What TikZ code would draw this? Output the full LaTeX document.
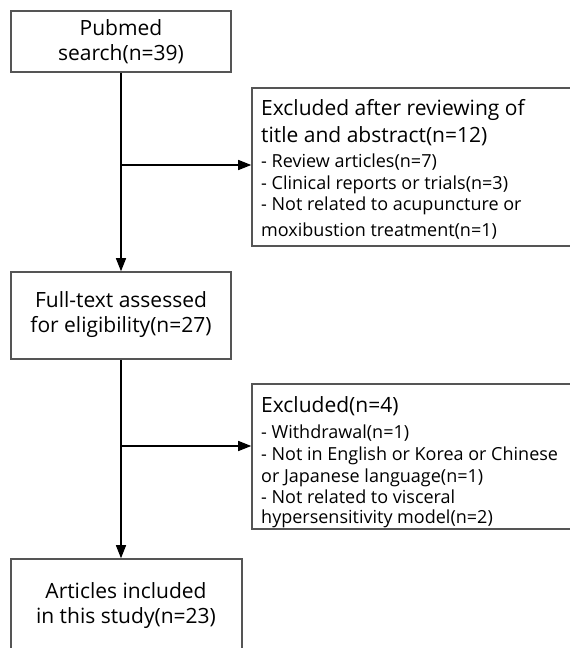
\documentclass[tikz,border=0pt]{standalone}
\usepackage{fontspec}
\setmainfont{Open Sans}
\usetikzlibrary{arrows.meta}
\definecolor{boxgray}{RGB}{85,85,85}
\begin{document}
\begin{tikzpicture}[x=1pt,y=-1pt,
  box/.style={draw=boxgray, line width=1.6pt, rectangle, inner sep=0pt},
  conn/.style={line width=1.3pt, -{Triangle[length=13pt,width=10pt]}},
  big/.style={font=\fontsize{21}{25}\selectfont, inner sep=0pt},
  small/.style={font=\fontsize{18}{20}\selectfont, inner sep=0pt, anchor=base west},
  title/.style={font=\fontsize{21}{25}\selectfont, inner sep=0pt, anchor=base west}]
\clip (0,0) rectangle (570,648);
\fill[white] (0,0) rectangle (570,648);
% boxes
\node[box, minimum width=220pt, minimum height=61pt] (b1) at (121,41.5) {};
\node[box, minimum width=328pt, minimum height=158pt] (b2) at (416,167) {};
\node[box, minimum width=220pt, minimum height=87pt] (b3) at (121,315.5) {};
\node[box, minimum width=328pt, minimum height=145pt] (b4) at (416,456.5) {};
\node[box, minimum width=231pt, minimum height=101pt] (b5) at (126.5,609.5) {};
% texts
\node[big, align=center] (t1) at (121,42) {Pubmed\\search(n=39)};
\node[big, align=center] (t3) at (121,315) {Full-text assessed\\for eligibility(n=27)};
\node[big, align=center] (t5) at (126,606) {Articles included\\in this study(n=23)};
\node[title] (t2a) at (261,115) {Excluded after reviewing of};
\node[title] (t2b) at (261,142) {title and abstract(n=12)};
\node[small] (t2c) at (261,167) {- Review articles(n=7)};
\node[small] (t2d) at (261,189) {- Clinical reports or trials(n=3)};
\node[small] (t2e) at (261,210) {- Not related to acupuncture or};
\node[small] (t2f) at (261,236) {moxibustion treatment(n=1)};
\node[title] (t4a) at (261,412) {Excluded(n=4)};
\node[small] (t4b) at (261,438) {- Withdrawal(n=1)};
\node[small] (t4c) at (261,460) {- Not in English or Korea or Chinese};
\node[small] (t4d) at (261,482) {or Japanese language(n=1)};
\node[small] (t4e) at (261,503) {- Not related to visceral};
\node[small] (t4f) at (261,523) {hypersensitivity model(n=2)};
% connectors
\coordinate (j1) at (121,165);
\coordinate (j2) at (121,446);
\draw[conn] (b1.south) -- (b3.north);
\draw[conn] (j1) -- (j1 -| b2.west);
\draw[conn] (b3.south) -- (b3.south |- b5.north);
\draw[conn] (j2) -- (j2 -| b4.west);
\end{tikzpicture}
\end{document}
